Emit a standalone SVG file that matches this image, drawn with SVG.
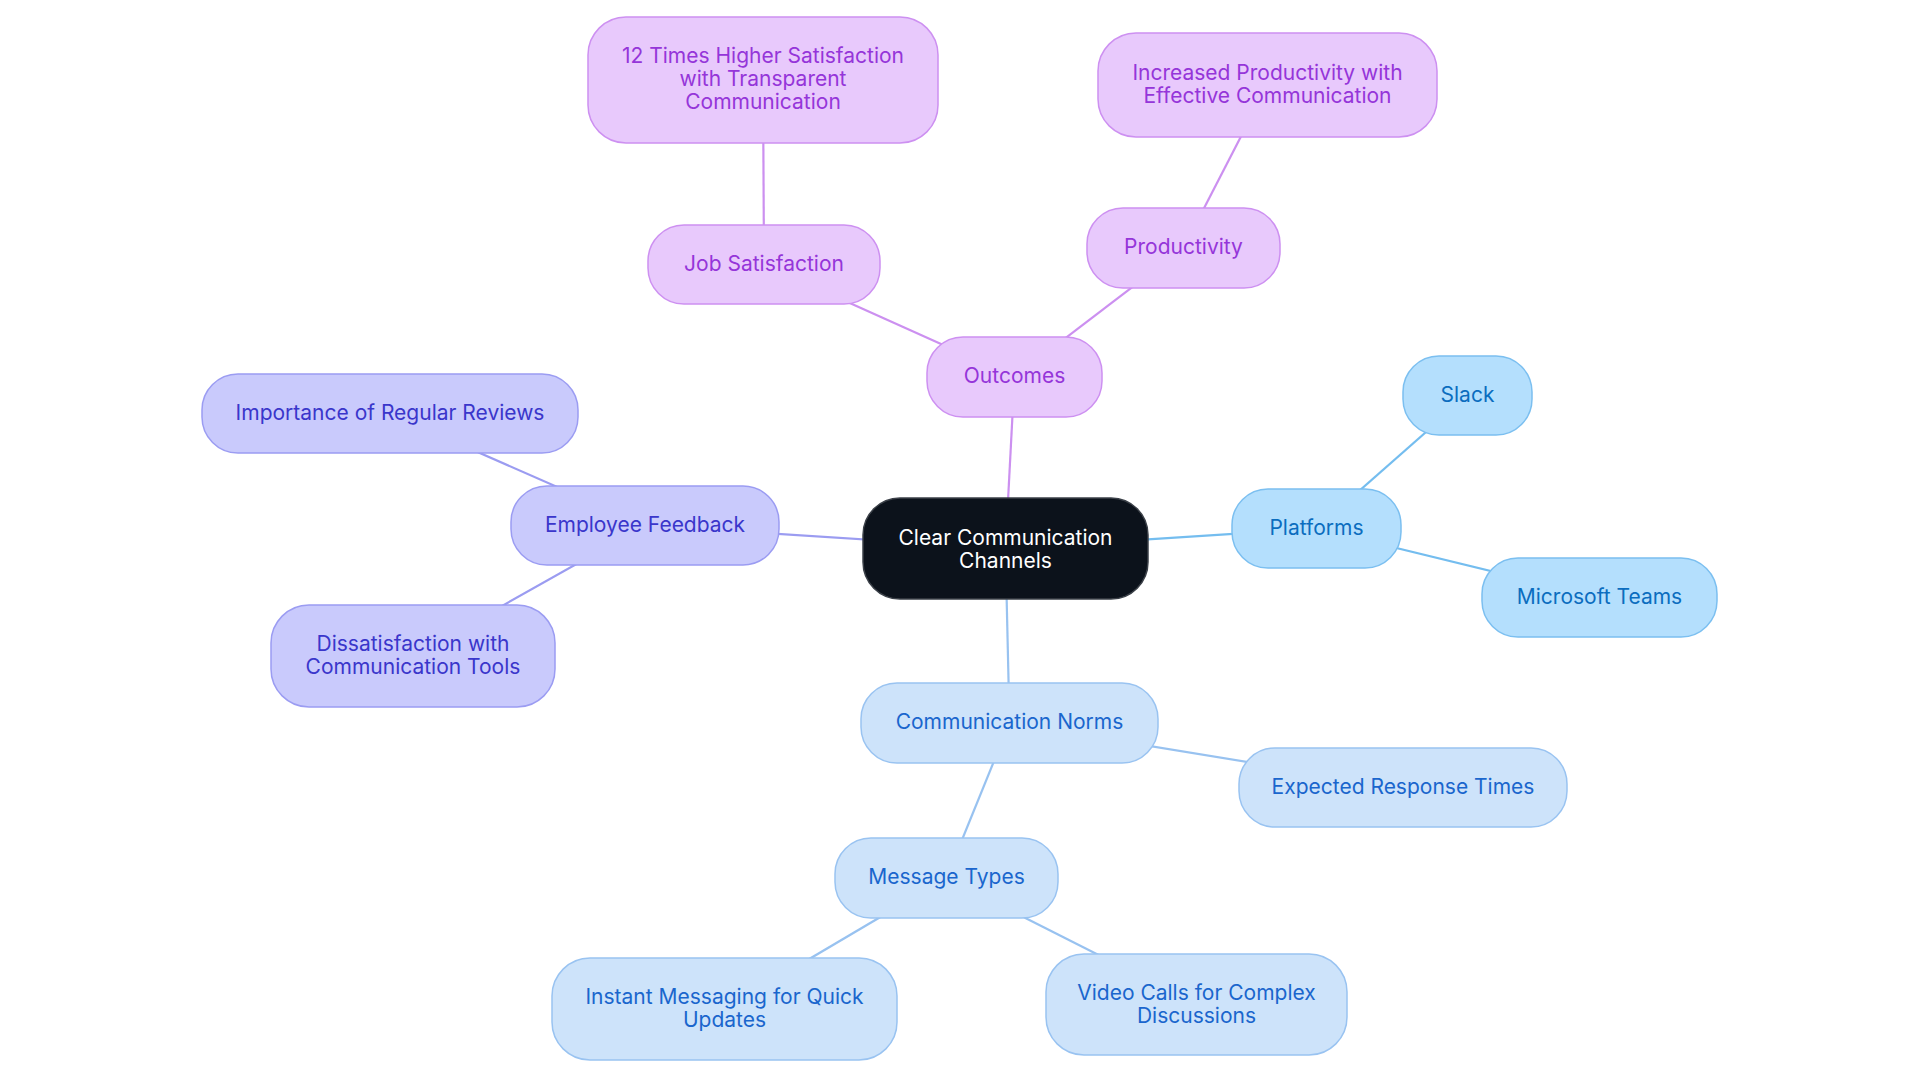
<svg xmlns="http://www.w3.org/2000/svg" width="1920" height="1083" viewBox="0 0 1920 1083">
<style>
text{font-family:Inter,"Noto Sans","Liberation Sans",sans-serif;font-size:21px;text-anchor:middle}
.c line{stroke-width:2.2;fill:none}
.lp{stroke:#cc90f0}.li{stroke:#9b9cf1}.lb{stroke:#74bdef}.ln{stroke:#98c2f0}
.p rect{fill:#e8c9fc;stroke:#cd90f1;stroke-width:1.5}.p text{fill:#9535d9}
.i rect{fill:#c9cafc;stroke:#9b9cf2;stroke-width:1.5}.i text{fill:#3a36cb}
.b rect{fill:#b4dffd;stroke:#7bbff0;stroke-width:1.5}.b text{fill:#0b6dbf}
.n rect{fill:#cde3fa;stroke:#99c3f1;stroke-width:1.5}.n text{fill:#1a66cd}
.m rect{fill:#0c121b;stroke:#3b4048;stroke-width:1.5}.m text{fill:#ffffff}
</style>
<rect width="1920" height="1083" fill="#ffffff"/>
<g id="connectors" class="c">
<line class="lp" x1="1005.5" y1="548.5" x2="1014.5" y2="377"/>
<line class="lp" x1="1014.5" y1="377" x2="764" y2="264.5"/>
<line class="lp" x1="1014.5" y1="377" x2="1183.5" y2="248"/>
<line class="lp" x1="764" y1="264.5" x2="763" y2="80"/>
<line class="lp" x1="1183.5" y1="248" x2="1267.5" y2="85"/>
<line class="li" x1="1005.5" y1="548.5" x2="645" y2="525.5"/>
<line class="li" x1="645" y1="525.5" x2="390" y2="413.5"/>
<line class="li" x1="645" y1="525.5" x2="413" y2="656"/>
<line class="lb" x1="1005.5" y1="548.5" x2="1316.5" y2="528.5"/>
<line class="lb" x1="1316.5" y1="528.5" x2="1467.5" y2="395.5"/>
<line class="lb" x1="1316.5" y1="528.5" x2="1599.5" y2="597.5"/>
<line class="ln" x1="1005.5" y1="548.5" x2="1009.5" y2="723"/>
<line class="ln" x1="1009.5" y1="723" x2="1403" y2="787.5"/>
<line class="ln" x1="1009.5" y1="723" x2="946.5" y2="878"/>
<line class="ln" x1="946.5" y1="878" x2="724.5" y2="1009"/>
<line class="ln" x1="946.5" y1="878" x2="1196.5" y2="1004.5"/>
</g>
<g id="n-center" class="m"><rect x="863" y="498" width="285" height="101" rx="37"/><text x="1005.5" y="544.5">Clear Communication</text><text x="1005.5" y="567.5">Channels</text></g>
<g id="n-outcomes" class="p"><rect x="927" y="337" width="175" height="80" rx="36"/><text x="1014.5" y="383">Outcomes</text></g>
<g id="n-jobsat" class="p"><rect x="648" y="225" width="232" height="79" rx="36"/><text x="764" y="270.5">Job Satisfaction</text></g>
<g id="n-productivity" class="p"><rect x="1087" y="208" width="193" height="80" rx="36"/><text x="1183.5" y="254">Productivity</text></g>
<g id="n-12times" class="p"><rect x="588" y="17" width="350" height="126" rx="38"/><text x="763" y="63">12 Times Higher Satisfaction</text><text x="763" y="86">with Transparent</text><text x="763" y="109">Communication</text></g>
<g id="n-increased" class="p"><rect x="1098" y="33" width="339" height="104" rx="38"/><text x="1267.5" y="80">Increased Productivity with</text><text x="1267.5" y="103">Effective Communication</text></g>
<g id="n-feedback" class="i"><rect x="511" y="486" width="268" height="79" rx="36"/><text x="645" y="531.5">Employee Feedback</text></g>
<g id="n-reviews" class="i"><rect x="202" y="374" width="376" height="79" rx="36"/><text x="390" y="419.5">Importance of Regular Reviews</text></g>
<g id="n-dissatisfaction" class="i"><rect x="271" y="605" width="284" height="102" rx="38"/><text x="413" y="651">Dissatisfaction with</text><text x="413" y="674">Communication Tools</text></g>
<g id="n-platforms" class="b"><rect x="1232" y="489" width="169" height="79" rx="36"/><text x="1316.5" y="534.5">Platforms</text></g>
<g id="n-slack" class="b"><rect x="1403" y="356" width="129" height="79" rx="36"/><text x="1467.5" y="401.5">Slack</text></g>
<g id="n-teams" class="b"><rect x="1482" y="558" width="235" height="79" rx="36"/><text x="1599.5" y="603.5">Microsoft Teams</text></g>
<g id="n-norms" class="n"><rect x="861" y="683" width="297" height="80" rx="36"/><text x="1009.5" y="729">Communication Norms</text></g>
<g id="n-response" class="n"><rect x="1239" y="748" width="328" height="79" rx="36"/><text x="1403" y="793.5">Expected Response Times</text></g>
<g id="n-msgtypes" class="n"><rect x="835" y="838" width="223" height="80" rx="36"/><text x="946.5" y="884">Message Types</text></g>
<g id="n-instant" class="n"><rect x="552" y="958" width="345" height="102" rx="38"/><text x="724.5" y="1004">Instant Messaging for Quick</text><text x="724.5" y="1027">Updates</text></g>
<g id="n-video" class="n"><rect x="1046" y="954" width="301" height="101" rx="38"/><text x="1196.5" y="999.5">Video Calls for Complex</text><text x="1196.5" y="1022.5">Discussions</text></g>
</svg>
